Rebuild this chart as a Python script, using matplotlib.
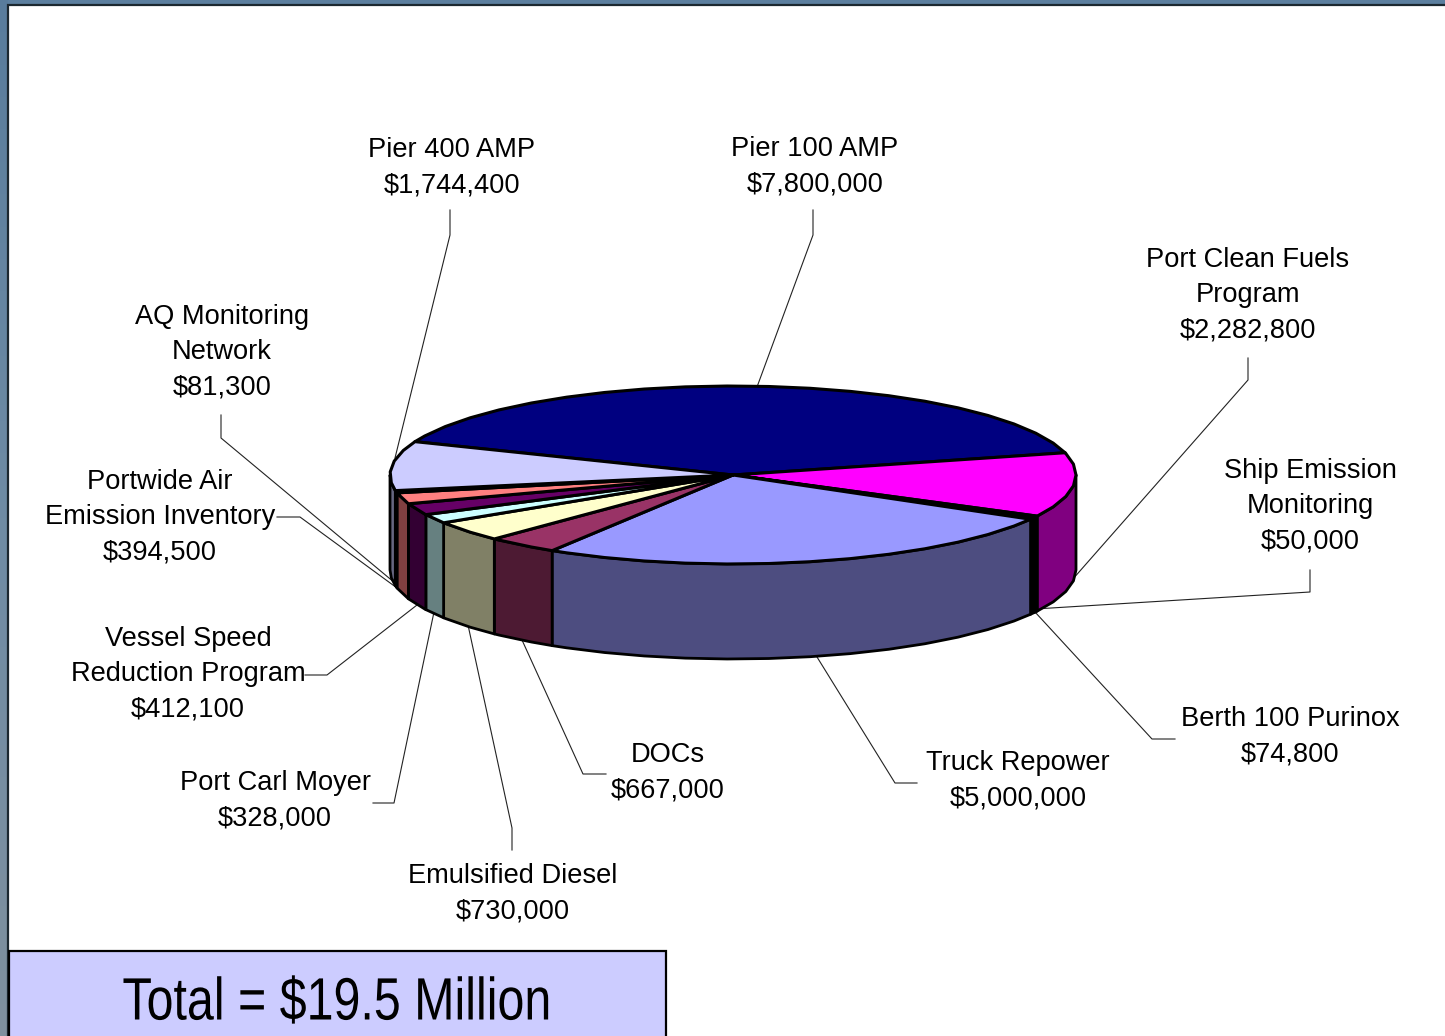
import numpy as np
import matplotlib
matplotlib.use("Agg")
import matplotlib.pyplot as plt
from matplotlib.patches import Polygon, Rectangle
from matplotlib.patheffects import AbstractPathEffect
from matplotlib.transforms import Affine2D

W, H = 1445, 1036

names = ["Pier 100 AMP", "Port Clean Fuels\nProgram", "Ship Emission\nMonitoring",
         "Berth 100 Purinox", "Truck Repower", "DOCs", "Emulsified Diesel",
         "Port Carl Moyer", "Vessel Speed\nReduction Program",
         "Portwide Air\nEmission Inventory", "AQ Monitoring\nNetwork", "Pier 400 AMP"]
values = [7800000, 2282800, 50000, 74800, 5000000, 667000, 730000,
          328000, 412100, 394500, 81300, 1744400]
top_colors = ["#000080", "#FF00FF", "#000000", "#000000", "#9999FF", "#993366",
              "#FFFFCC", "#CCFFFF", "#660066", "#FF8080", "#0066CC", "#CCCCFF"]
label_pos = [(815, 167), (1248, 295), (1310, 506), (1290, 737), (1018, 781), (668, 773),
             (513, 894), (275, 801), (188, 674), (160, 517), (222, 352), (452, 168)]
leaders = [[(813, 210), (813, 235), (757, 387)],
           [(1248, 358), (1248, 380), (1072, 580)],
           [(1310, 570), (1310, 592), (1035, 609)],
           [(1175, 739), (1152, 739), (1035, 612)],
           [(917, 783), (895, 783), (817, 657)],
           [(606, 774), (583, 774), (522, 640)],
           [(512, 850), (512, 828), (468, 625)],
           [(373, 803), (394, 803), (434, 612)],
           [(305, 675), (327, 675), (417, 605)],
           [(277, 517), (300, 517), (397, 588)],
           [(221, 415), (221, 438), (395, 583)],
           [(450, 210), (450, 235), (395, 458)]]

cx, cy, rx, ry, depth = 733, 475, 343, 89, 95
start = 158.0
facet = 7.0


class SqueezeX(AbstractPathEffect):
    """Horizontally condense real text about a display x position."""
    def __init__(self, x0, factor):
        super().__init__()
        self.tf = Affine2D().translate(-x0, 0).scale(factor, 1).translate(x0, 0)

    def draw_path(self, renderer, gc, tpath, affine, rgbFace=None):
        renderer.draw_path(gc, tpath, affine + self.tf, rgbFace)


plt.rcParams['font.family'] = ['Liberation Sans', 'DejaVu Sans']
fig = plt.figure(figsize=(W / 100, H / 100), dpi=100, facecolor="#5C7F9F")
ax = fig.add_axes([0, 0, 1, 1])

cmap = matplotlib.colors.LinearSegmentedColormap.from_list("strip", ["#597C9C", "#6F8CA5", "#7F909E"])
ax.imshow(np.linspace(0, 1, 64)[:, None], cmap=cmap, extent=(0, 8, H, 0), aspect="auto", zorder=0)
ax.set_xlim(0, W)
ax.set_ylim(H, 0)
ax.axis("off")

ax.add_patch(Rectangle((8, 5), W, H, fc="white", ec="#1c2830", lw=1.6, zorder=0.5))


def rim(a, b):
    k = np.arange(np.ceil(b / facet), np.floor(a / facet) + 1) * facet
    ang = np.concatenate([[a], k[::-1], [b]])
    t = np.radians(ang)
    return np.column_stack([cx + rx * np.cos(t), cy - ry * np.sin(t)])


def darker(c):
    return np.array(matplotlib.colors.to_rgb(c)) * 0.5


total = sum(values)
edges = start - np.cumsum([0] + values) * 360.0 / total

# side walls (front half only)
for i, c in enumerate(top_colors):
    a, b = edges[i], edges[i + 1]
    for lo, hi in ((-180, 0), (-540, -360)):
        a2, b2 = min(a, hi), max(b, lo)
        if a2 > b2:
            arc = rim(a2, b2)
            low = arc[::-1] + [0, depth]
            ax.add_patch(Polygon(np.vstack([arc, low]), closed=True, fc=darker(c),
                                 ec="black", lw=2.0, joinstyle="round", zorder=2))

# top face
for i, c in enumerate(top_colors):
    arc = rim(edges[i], edges[i + 1])
    ax.add_patch(Polygon(np.vstack([[cx, cy], arc]), closed=True, fc=c,
                         ec="black", lw=2.2, joinstyle="round", zorder=3))

# leader lines and labels
for pts, name, val, pos in zip(leaders, names, values, label_pos):
    p = np.array(pts)
    ax.plot(p[:, 0], p[:, 1], color="#222222", lw=0.8, zorder=1)
    ax.text(pos[0], pos[1], f"{name}\n${val:,}", ha="center", va="center",
            fontsize=19.6, linespacing=1.46, color="black", zorder=5)

# total box
ax.add_patch(Rectangle((9, 951), 657, 100, fc="#CCCCFF", ec="black", lw=1.6, zorder=4))
ax.text(337, 1004, "Total = $19.5 Million", ha="center", va="center", fontsize=43,
        color="black", zorder=5, path_effects=[SqueezeX(337, 0.81)])

fig.savefig("out.png", dpi=100, facecolor=fig.get_facecolor())
